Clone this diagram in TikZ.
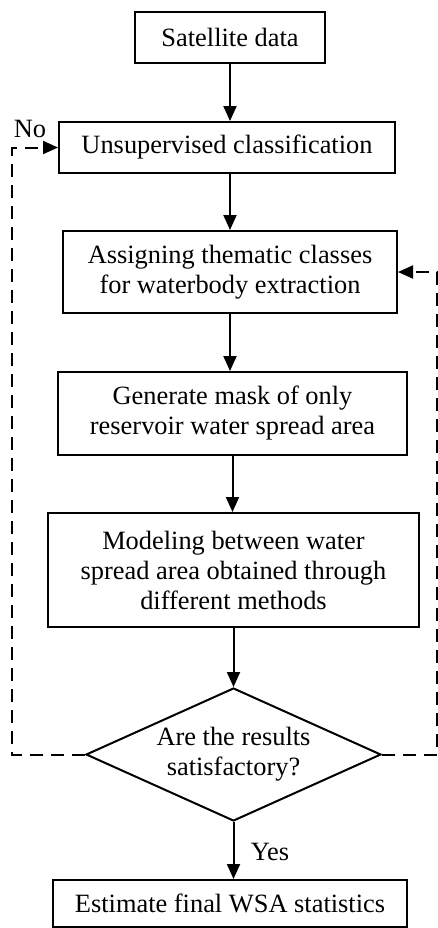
\documentclass[tikz,border=0pt]{standalone}
\usepackage{fontspec}
\setmainfont{Liberation Serif}
\usetikzlibrary{shapes.geometric,arrows.meta}
\tikzset{
  stepbox/.style={draw,line width=1pt,inner sep=0pt,align=center},
  decbox/.style={draw,diamond,line width=1pt,inner sep=0pt,align=center,
    shape aspect=2.2},
  flow/.style={line width=1pt,-{Triangle[length=7.5pt,width=6.5pt]}},
  back/.style={flow,dash pattern=on 6.5pt off 4pt}
}
\begin{document}
\begin{tikzpicture}[x=0.5pt,y=-0.5pt,font=\fontsize{13.2pt}{15pt}\selectfont]
  \useasboundingbox (0,0) rectangle (438,928);
  \draw
    (230,37.5) node[stepbox,minimum width=95pt,minimum height=25.5pt] (sat){Satellite data}
    (227,147.5) node[stepbox,minimum width=168pt,minimum height=25.5pt] (uns){Unsupervised classification}
    (230,272) node[stepbox,minimum width=167pt,minimum height=41pt] (assign){Assigning thematic classes\\for waterbody extraction}
    (232.5,413.5) node[stepbox,minimum width=174.5pt,minimum height=41.5pt] (mask){Generate mask of only\\reservoir water spread area}
    (233.5,570) node[stepbox,minimum width=185.5pt,minimum height=57pt] (model){Modeling between water\\spread area obtained through\\different methods}
    (233.5,754.5) node[decbox,minimum width=147.5pt,minimum height=66.5pt] (dec){Are the results\\satisfactory?}
    (230,903.5) node[stepbox,minimum width=177pt,minimum height=23.5pt] (fin){Estimate final WSA statistics};
  \coordinate (lft) at (12,0);
  \coordinate (rgt) at (437,0);
  \node (no) at (30,129) {No};
  \node (yes) at (270,852) {Yes};
  \begin{scope}
    \draw[flow] (sat) -- (sat |- uns.north);
    \draw[flow] (sat |- uns.south) -- (sat |- assign.north);
    \draw[flow] (assign) -- (assign |- mask.north);
    \draw[flow] (mask) -- (mask |- model.north);
    \draw[flow] (model) -- (model |- dec.north);
    \draw[flow] (dec) -- (dec |- fin.north);
    \draw[back] (dec.west) -- (dec.west -| lft) |- (uns.west);
    \draw[back] (dec.east) -- (dec.east -| rgt) |- (assign.east);
  \end{scope}
\end{tikzpicture}
\end{document}
